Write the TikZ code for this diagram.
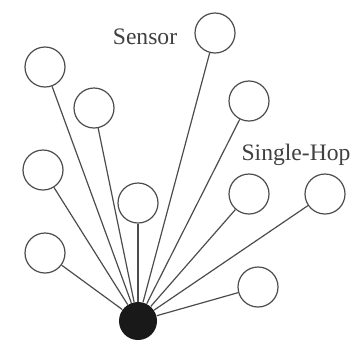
\documentclass[tikz,border=0pt]{standalone}
\usepackage{fontspec}
\setmainfont{Liberation Serif}
\usepackage{tikz}

\begin{document}
\begin{tikzpicture}[
  x=0.5pt, y=-0.5pt,
  font=\fontsize{11.8}{14}\selectfont,
  sensor/.style={circle, draw=black!70, line width=0.6pt, fill=white,
                 minimum size=20pt, inner sep=0pt},
  sink/.style={circle, fill=black!90, minimum size=19pt, inner sep=0pt},
  link/.style={draw=black!70, line width=0.6pt},
  lbl/.style={text=black!75, inner sep=0pt}
]
\useasboundingbox (0,0) rectangle (362,361);
% base station
\node[sink] (hub) at (138,321) {};
% sensors
\node[sensor] (s1)  at (45,67)   {};
\node[sensor] (s2)  at (94,108)  {};
\node[sensor] (s3)  at (215,33)  {};
\node[sensor] (s4)  at (249,101) {};
\node[sensor] (s5)  at (43,170)  {};
\node[sensor] (s6)  at (138,203) {};
\node[sensor] (s7)  at (249,194) {};
\node[sensor] (s8)  at (325,194) {};
\node[sensor] (s9)  at (45,253)  {};
\node[sensor] (s10) at (258,287) {};
% single-hop links
\foreach \s in {s1,s2,s3,s4,s5,s6,s7,s8,s9,s10}
  \path[link] (hub) -- (\s);
% labels
\node[lbl] (lsensor) at (145,37)  {Sensor};
\node[lbl] (lhop)    at (296,155) {Single-Hop};
\end{tikzpicture}
\end{document}
